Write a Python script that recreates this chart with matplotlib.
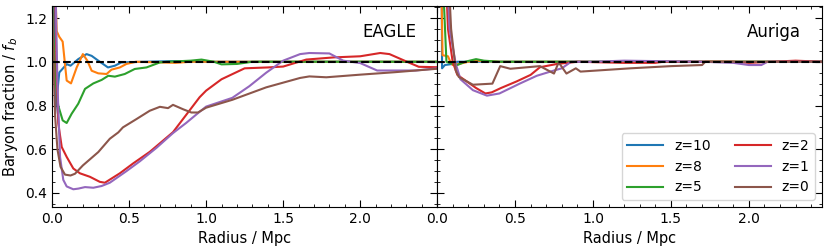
import matplotlib
matplotlib.use("Agg")
import matplotlib.pyplot as plt
from matplotlib.ticker import MultipleLocator

# EAGLE profiles (radius in Mpc, baryon fraction / f_b)
eagle_r_z10 = [0.005, 0.012, 0.02, 0.047, 0.095, 0.12, 0.17, 0.224, 0.257, 0.3, 0.363, 0.408, 0.45, 0.6, 0.8, 1.0, 1.5, 2.0, 2.5]
eagle_f_z10 = [1.6, 1.25, 0.763, 0.951, 0.989, 0.982, 1.012, 1.035, 1.027, 1.005, 0.974, 0.982, 0.997, 1.0, 1.003, 1.0, 1.0, 1.0, 1.0]

eagle_r_z8 = [0.01, 0.03, 0.047, 0.069, 0.095, 0.123, 0.16, 0.2, 0.229, 0.257, 0.3, 0.354, 0.386, 0.44, 0.483, 0.545, 0.7, 0.8, 0.9, 1.5, 2.5]
eagle_f_z8 = [1.6, 1.14, 1.114, 1.092, 0.914, 0.901, 0.974, 1.035, 1.005, 0.959, 0.947, 0.944, 0.964, 0.974, 0.99, 1.0, 0.997, 0.995, 1.0, 1.0, 1.0]

eagle_r_z5 = [0.0, 0.01, 0.025, 0.04, 0.069, 0.095, 0.127, 0.17, 0.214, 0.268, 0.322, 0.365, 0.408, 0.472, 0.537, 0.613, 0.7, 0.75, 0.9, 0.97, 1.05, 1.1, 1.2, 1.3, 2.5]
eagle_f_z5 = [1.3, 1.1, 0.9, 0.8, 0.732, 0.72, 0.762, 0.808, 0.876, 0.901, 0.917, 0.936, 0.932, 0.944, 0.967, 0.974, 0.997, 1.0, 1.005, 1.01, 1.0, 0.988, 0.99, 1.0, 1.0]

eagle_r_z2 = [0.012, 0.03, 0.04, 0.063, 0.095, 0.138, 0.181, 0.246, 0.31, 0.343, 0.44, 0.526, 0.634, 0.785, 0.958, 1.0, 1.1, 1.25, 1.4, 1.5, 1.65, 1.83, 2.0, 2.13, 2.19, 2.32, 2.38, 2.5]
eagle_f_z2 = [1.6, 0.95, 0.72, 0.61, 0.565, 0.512, 0.49, 0.474, 0.451, 0.447, 0.49, 0.535, 0.588, 0.678, 0.838, 0.868, 0.92, 0.97, 0.974, 0.978, 1.01, 1.02, 1.025, 1.04, 1.035, 0.995, 0.977, 0.975]

eagle_r_z1 = [0.015, 0.035, 0.052, 0.073, 0.095, 0.138, 0.17, 0.214, 0.268, 0.322, 0.375, 0.483, 0.57, 0.677, 0.785, 0.87, 0.947, 1.0, 1.17, 1.28, 1.39, 1.5, 1.61, 1.67, 1.8, 1.89, 2.0, 2.11, 2.17, 2.36, 2.5]
eagle_f_z1 = [1.6, 0.9, 0.565, 0.46, 0.43, 0.417, 0.42, 0.427, 0.424, 0.432, 0.447, 0.5, 0.545, 0.606, 0.674, 0.72, 0.765, 0.795, 0.835, 0.888, 0.95, 1.005, 1.035, 1.04, 1.038, 1.005, 0.994, 0.96, 0.96, 0.96, 0.97]

eagle_r_z0 = [0.0, 0.01, 0.02, 0.035, 0.055, 0.084, 0.12, 0.149, 0.2, 0.3, 0.375, 0.43, 0.46, 0.548, 0.634, 0.7, 0.753, 0.785, 0.85, 0.904, 0.947, 1.0, 1.17, 1.39, 1.61, 1.67, 1.78, 2.0, 2.22, 2.5]
eagle_f_z0 = [1.3, 1.0, 0.75, 0.6, 0.52, 0.484, 0.48, 0.488, 0.526, 0.587, 0.648, 0.677, 0.7, 0.738, 0.776, 0.794, 0.788, 0.803, 0.783, 0.768, 0.768, 0.79, 0.826, 0.883, 0.926, 0.933, 0.929, 0.941, 0.952, 0.968]

# Auriga profiles
auriga_r_z10 = [0.02, 0.03, 0.032, 0.05, 0.1, 0.13, 0.2, 1.0, 2.47]
auriga_f_z10 = [1.6, 1.3, 0.97, 0.985, 0.99, 1.0, 1.0, 1.0, 1.0]

auriga_r_z8 = [0.025, 0.03, 0.035, 0.07, 0.085, 0.1, 0.14, 0.2, 0.25, 0.4, 2.47]
auriga_f_z8 = [1.6, 1.25, 1.03, 1.025, 1.0, 0.985, 0.99, 1.0, 1.005, 1.0, 1.0]

auriga_r_z5 = [0.035, 0.045, 0.06, 0.1, 0.13, 0.18, 0.25, 0.3, 0.4, 2.47]
auriga_f_z5 = [1.6, 1.25, 1.0, 0.99, 0.985, 1.0, 1.012, 1.005, 1.0, 1.0]

auriga_r_z2 = [0.045, 0.07, 0.1, 0.13, 0.19, 0.25, 0.31, 0.35, 0.41, 0.51, 0.6, 0.66, 0.77, 0.9, 1.2, 1.4, 1.45, 1.9, 2.0, 2.3, 2.47]
auriga_f_z2 = [1.6, 1.15, 1.0, 0.94, 0.91, 0.88, 0.855, 0.86, 0.88, 0.91, 0.94, 0.975, 0.99, 1.0, 0.995, 0.995, 1.0, 1.0, 0.995, 1.005, 1.0]

auriga_r_z1 = [0.05, 0.08, 0.12, 0.15, 0.23, 0.32, 0.4, 0.53, 0.64, 0.75, 0.8, 0.86, 1.0, 1.2, 1.7, 1.9, 2.0, 2.08, 2.12, 2.47]
auriga_f_z1 = [1.6, 1.15, 0.99, 0.92, 0.87, 0.845, 0.855, 0.9, 0.936, 0.96, 0.97, 1.0, 1.0, 1.005, 1.0, 0.995, 0.985, 0.985, 1.0, 1.0]

auriga_r_z0 = [0.06, 0.09, 0.12, 0.14, 0.23, 0.355, 0.405, 0.47, 0.66, 0.75, 0.78, 0.83, 0.89, 0.92, 1.24, 1.5, 1.7, 1.72, 2.47]
auriga_f_z0 = [1.6, 1.15, 0.96, 0.93, 0.895, 0.9, 0.98, 0.968, 0.98, 0.946, 0.997, 0.946, 0.97, 0.955, 0.97, 0.98, 0.985, 1.0, 1.0]

labels = ["z=10", "z=8", "z=5", "z=2", "z=1", "z=0"]
eagle = [(eagle_r_z10, eagle_f_z10), (eagle_r_z8, eagle_f_z8), (eagle_r_z5, eagle_f_z5),
         (eagle_r_z2, eagle_f_z2), (eagle_r_z1, eagle_f_z1), (eagle_r_z0, eagle_f_z0)]
auriga = [(auriga_r_z10, auriga_f_z10), (auriga_r_z8, auriga_f_z8), (auriga_r_z5, auriga_f_z5),
          (auriga_r_z2, auriga_f_z2), (auriga_r_z1, auriga_f_z1), (auriga_r_z0, auriga_f_z0)]


def style_axis(ax, xmax):
    ax.set_xlim(0, xmax)
    ax.set_ylim(0.336, 1.255)
    ax.xaxis.set_major_locator(MultipleLocator(0.5))
    ax.xaxis.set_minor_locator(MultipleLocator(0.1))
    ax.yaxis.set_major_locator(MultipleLocator(0.2))
    ax.yaxis.set_minor_locator(MultipleLocator(0.05))
    ax.tick_params(which='both', direction='in', top=True, right=True, labelsize=10)
    ax.tick_params(which='major', length=5)
    ax.tick_params(which='minor', length=2.5)
    ax.set_xlabel("Radius / Mpc", fontsize=10.5)


fig = plt.figure(figsize=[8.3, 2.49], dpi=100)
ax1 = fig.add_axes([0.0627, 0.1687, 0.4639, 0.8073])
ax2 = fig.add_axes([0.5266, 0.1687, 0.4639, 0.8073], sharey=ax1)

for i, (r, f) in enumerate(eagle):
    ax1.plot(r, f, color="C{}".format(i), lw=1.5, label=labels[i])
for i, (r, f) in enumerate(auriga):
    ax2.plot(r, f, color="C{}".format(i), lw=1.5, label=labels[i])

for ax in [ax1, ax2]:
    ax.axhline(1.0, color='k', ls='--', lw=1.5, zorder=5)

# left panel stops just short of 2.5 so its last label does not clash with 0.0
style_axis(ax1, 2.499)
style_axis(ax2, 2.47)
ax2.tick_params(labelleft=False)
ax1.set_ylabel("Baryon fraction / $f_b$", fontsize=10.5)

ax1.text(0.945, 0.87, "EAGLE", transform=ax1.transAxes, ha='right', va='center', fontsize=12)
ax2.text(0.945, 0.87, "Auriga", transform=ax2.transAxes, ha='right', va='center', fontsize=12)

ax2.legend(loc='lower right', ncol=2, fontsize=10, handlelength=2.6, columnspacing=1.7)

plt.savefig("out.png", dpi=100)
plt.close()
